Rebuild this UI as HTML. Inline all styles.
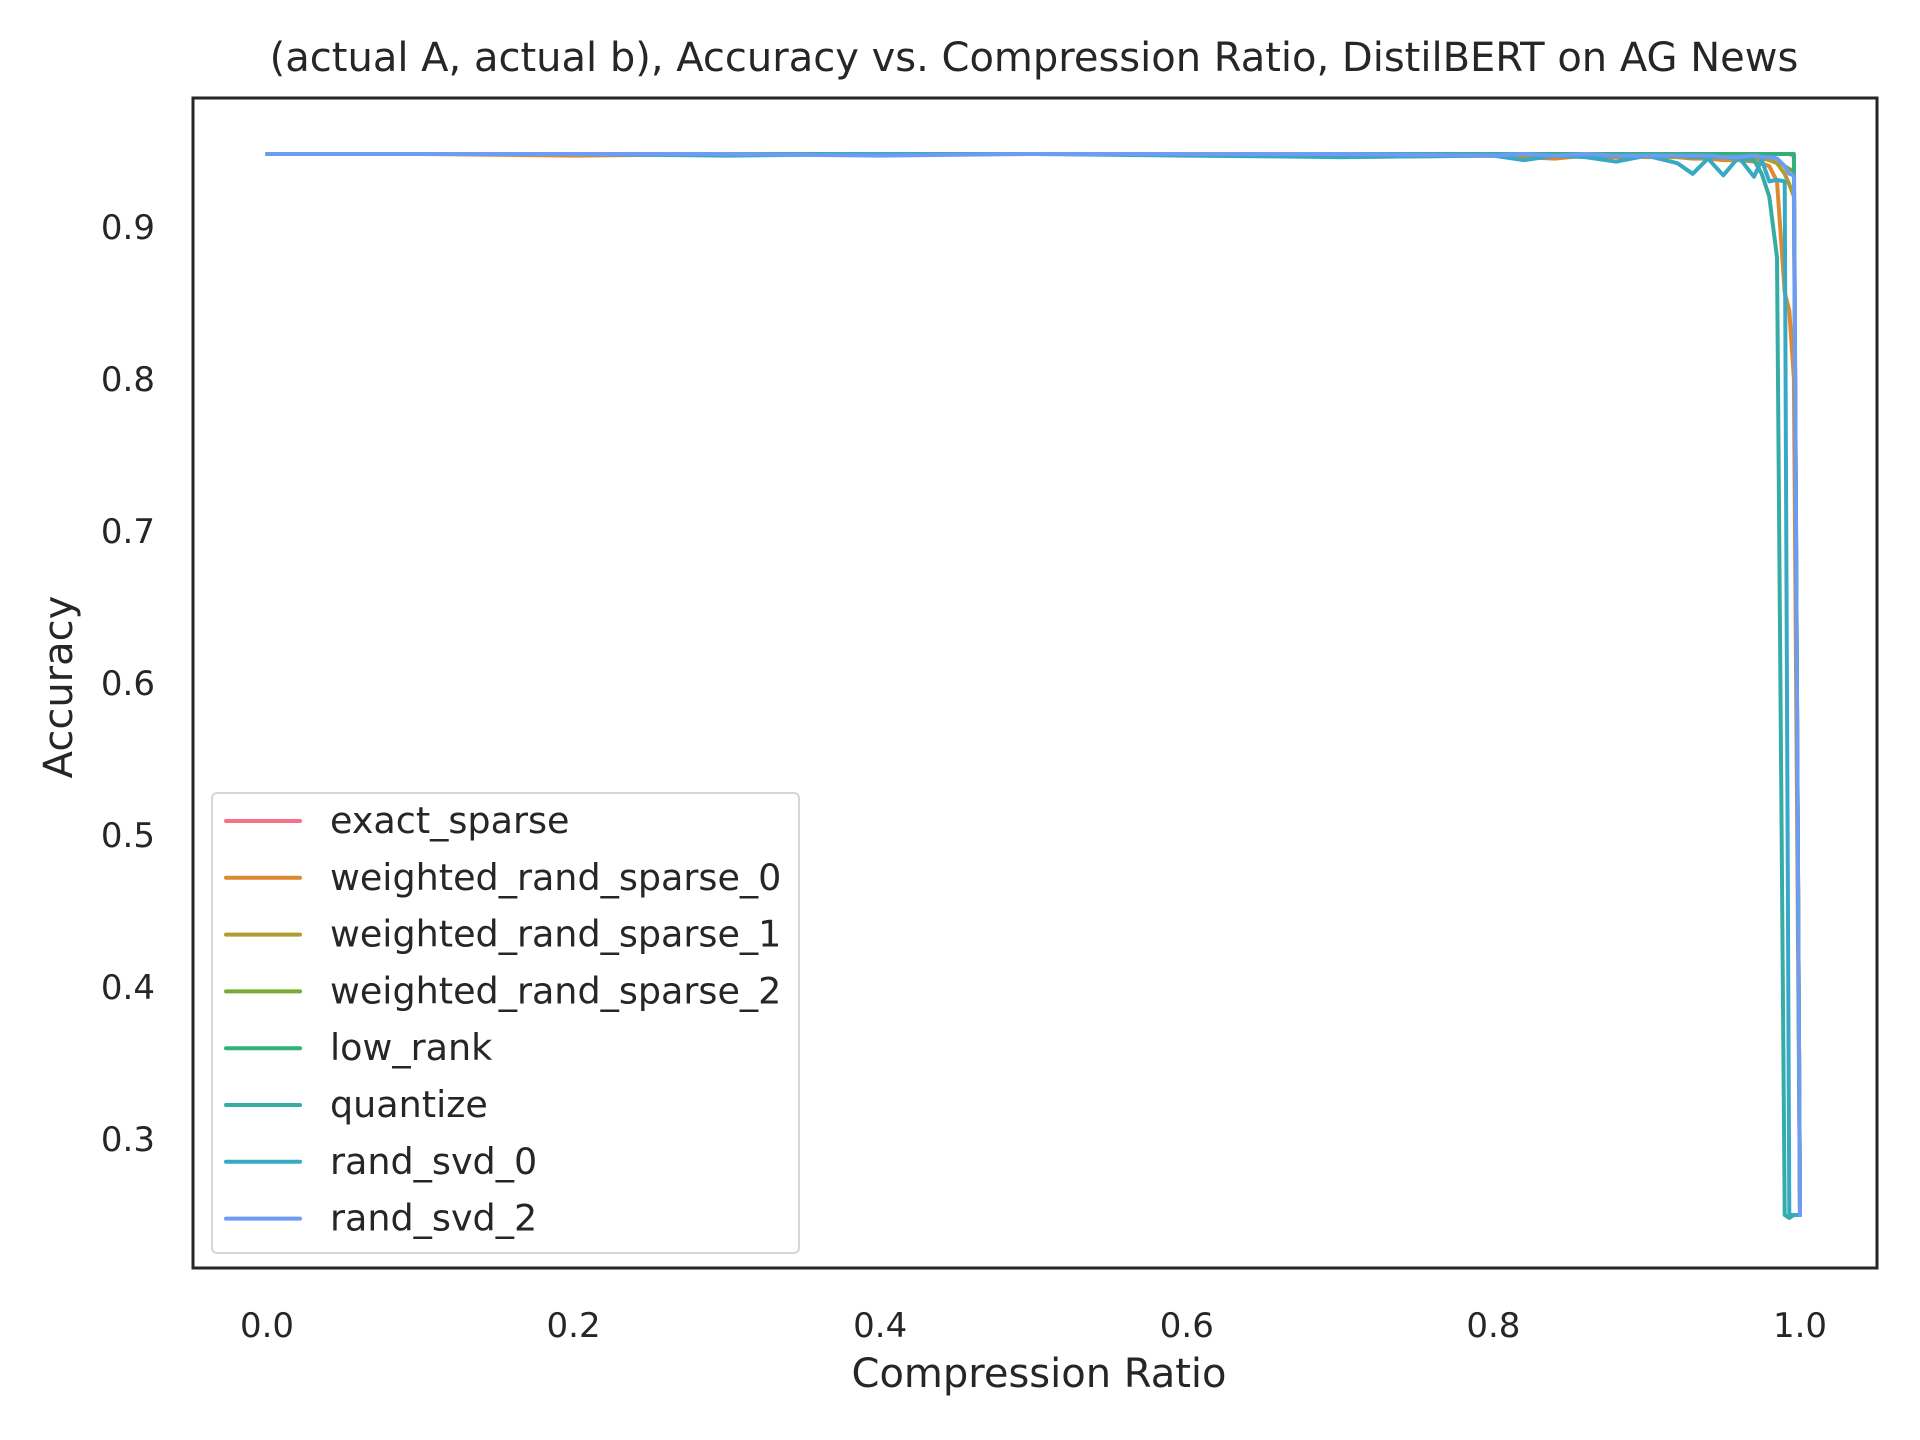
<!DOCTYPE html>
<html><head><meta charset="utf-8"><style>
html,body{margin:0;padding:0;background:#fff;}
svg{display:block;font-family:"DejaVu Sans","Liberation Sans",sans-serif;}
</style></head><body>
<svg id="chart" width="1920" height="1440" viewBox="0 0 1920 1440">
<rect x="0" y="0" width="1920" height="1440" fill="#fff"/>
<text x="1034" y="71" font-size="40" fill="#262626" text-anchor="middle">(actual A, actual b), Accuracy vs. Compression Ratio, DistilBERT on AG News</text>
<g id="plot"></g>
<rect x="193" y="98" width="1684" height="1170" fill="none" stroke="#262626" stroke-width="3"/>
<g id="xticks"></g>
<g id="yticks"></g>
<text x="1039" y="1387" font-size="40" fill="#262626" text-anchor="middle">Compression Ratio</text>
<text x="0" y="0" font-size="40" fill="#262626" text-anchor="middle" transform="translate(72,687) rotate(-90)">Accuracy</text>
<g id="legend"></g>
</svg>
<script>
const xValues = [0,0.1,0.2,0.3,0.4,0.5,0.6,0.7,0.8,0.82,0.84,0.86,0.88,0.9,0.92,0.93,0.94,0.95,0.96,0.97,0.975,0.98,0.985,0.99,0.993,0.996,1.0];
const seriesNames = ["exact_sparse","weighted_rand_sparse_0","weighted_rand_sparse_1","weighted_rand_sparse_2","low_rank","quantize","rand_svd_0","rand_svd_2"];
const seriesColors = ["#f77189","#dc8932","#ae9d31","#77ab31","#33b07a","#36ada4","#38a9c5","#6e9bf4"];
const exactSparse = [0.948,0.948,0.948,0.948,0.948,0.948,0.948,0.948,0.948,0.948,0.948,0.948,0.948,0.948,0.948,0.948,0.948,0.948,0.948,0.948,0.948,0.948,0.948,0.948,0.948,0.947,0.25];
const wrs0 = [0.948,0.948,0.947,0.948,0.948,0.948,0.948,0.946,0.947,0.946,0.945,0.947,0.946,0.947,0.946,0.945,0.945,0.944,0.944,0.943,0.942,0.940,0.930,0.857,0.845,0.80,0.25];
const wrs1 = [0.948,0.948,0.948,0.948,0.948,0.948,0.948,0.947,0.947,0.947,0.947,0.947,0.947,0.946,0.946,0.946,0.946,0.946,0.945,0.945,0.945,0.944,0.942,0.935,0.928,0.920,0.25];
const wrs2 = [0.948,0.948,0.948,0.948,0.948,0.948,0.948,0.948,0.948,0.948,0.948,0.948,0.948,0.948,0.947,0.947,0.947,0.947,0.947,0.947,0.946,0.946,0.945,0.940,0.938,0.937,0.25];
const lowRank = [0.948,0.948,0.948,0.948,0.948,0.948,0.948,0.948,0.948,0.948,0.948,0.948,0.948,0.948,0.948,0.948,0.948,0.948,0.948,0.948,0.948,0.948,0.948,0.948,0.948,0.948,0.25];
const quantize = [0.948,0.948,0.948,0.948,0.948,0.948,0.948,0.948,0.948,0.948,0.947,0.947,0.947,0.947,0.947,0.946,0.946,0.946,0.945,0.944,0.935,0.920,0.88,0.25,0.248,0.25,0.25];
const randSvd0 = [0.948,0.948,0.948,0.947,0.948,0.948,0.947,0.946,0.947,0.944,0.947,0.946,0.943,0.947,0.942,0.935,0.945,0.934,0.946,0.933,0.944,0.930,0.931,0.930,0.25,0.25,0.25];
const randSvd2 = [0.948,0.948,0.948,0.948,0.947,0.948,0.948,0.948,0.947,0.948,0.947,0.948,0.947,0.947,0.947,0.947,0.947,0.946,0.946,0.947,0.946,0.946,0.945,0.940,0.935,0.934,0.25];
const seriesValues = [exactSparse,wrs0,wrs1,wrs2,lowRank,quantize,randSvd0,randSvd2];
const xTickValues = [0.0,0.2,0.4,0.6,0.8,1.0];
const xTickLabels = ["0.0","0.2","0.4","0.6","0.8","1.0"];
const yTickValues = [0.3,0.4,0.5,0.6,0.7,0.8,0.9];
const yTickLabels = ["0.3","0.4","0.5","0.6","0.7","0.8","0.9"];

const NS = "http://www.w3.org/2000/svg";
function xScale(v){ return 267 + v*1533; }
function yScale(v){ return 227 - (v-0.9)*1520; }

const plot = document.getElementById('plot');
seriesValues.forEach((vals,i)=>{
  const p = document.createElementNS(NS,'path');
  let d = '';
  vals.forEach((v,j)=>{ d += (j?'L':'M') + xScale(xValues[j]).toFixed(1) + ',' + yScale(v).toFixed(1); });
  p.setAttribute('d', d);
  p.setAttribute('fill','none');
  p.setAttribute('stroke', seriesColors[i]);
  p.setAttribute('stroke-width','4');
  p.setAttribute('stroke-linejoin','round');
  p.setAttribute('stroke-linecap','round');
  
  
  plot.appendChild(p);
});

const xt = document.getElementById('xticks');
xTickValues.forEach((v,i)=>{
  const t = document.createElementNS(NS,'text');
  t.setAttribute('x', xScale(v));
  t.setAttribute('y', 1337);
  t.setAttribute('font-size','34');
  t.setAttribute('fill','#262626');
  t.setAttribute('text-anchor','middle');
  t.textContent = xTickLabels[i];
  
  
  xt.appendChild(t);
});
const yt = document.getElementById('yticks');
yTickValues.forEach((v,i)=>{
  const t = document.createElementNS(NS,'text');
  t.setAttribute('x', 155);
  t.setAttribute('y', yScale(v)+12);
  t.setAttribute('font-size','34');
  t.setAttribute('fill','#262626');
  t.setAttribute('text-anchor','end');
  t.textContent = yTickLabels[i];
  
  
  yt.appendChild(t);
});

const lg = document.getElementById('legend');
const box = document.createElementNS(NS,'rect');
box.setAttribute('x',212); box.setAttribute('y',793);
box.setAttribute('width',587); box.setAttribute('height',460);
box.setAttribute('rx',5);
box.setAttribute('fill','#fff'); box.setAttribute('stroke','#d6d6d6'); box.setAttribute('stroke-width','2');


lg.appendChild(box);
seriesNames.forEach((n,i)=>{
  const y = 821 + i*56.8;
  const l = document.createElementNS(NS,'line');
  l.setAttribute('x1',226); l.setAttribute('x2',300);
  l.setAttribute('y1',y); l.setAttribute('y2',y);
  l.setAttribute('stroke',seriesColors[i]); l.setAttribute('stroke-width','4');
  l.setAttribute('stroke-linecap','round');
  
  
  lg.appendChild(l);
  const t = document.createElementNS(NS,'text');
  t.setAttribute('x',330); t.setAttribute('y',y+12);
  t.setAttribute('font-size','36.5'); t.setAttribute('fill','#262626');
  t.textContent = n;
  
  
  lg.appendChild(t);
});
</script>
</body></html>
